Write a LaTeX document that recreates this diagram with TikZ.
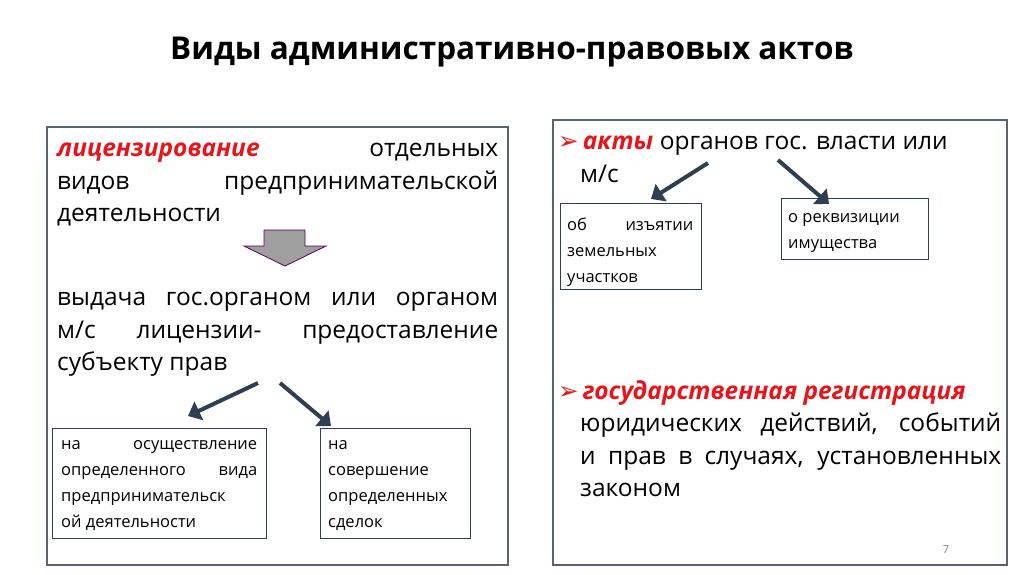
\documentclass[tikz,border=0pt]{standalone}
\usepackage{fontspec}
\setmainfont{Open Sans}
\newfontfamily\symfont{DejaVu Sans}
\usetikzlibrary{arrows.meta}
\definecolor{frame}{HTML}{5A6470}
\definecolor{arr}{HTML}{2F3E50}
\definecolor{hot}{HTML}{E8141B}
\tikzset{
  x=1pt,y=-1pt,
  frm/.style={draw=frame,line width=1.4pt},
  sbox/.style={draw=arr,line width=1.2pt,fill=white},
  big/.style={font=\fontsize{24.5}{32.5}\selectfont,inner sep=0pt,anchor=north west,align=justify},
  small/.style={font=\fontsize{16.5}{26}\selectfont,inner sep=0pt,anchor=north west,align=justify},
  thk/.style={draw=arr,line width=4pt,-{Triangle[length=12pt,width=20pt]}},
}
\newcommand{\red}[1]{\textcolor{hot}{\textbf{\textit{#1}}}}
\newcommand{\bul}{\textcolor{hot}{\symfont ➢}}
\begin{document}
\begin{tikzpicture}
\useasboundingbox (0,0) rectangle (1024,574);
\node[font=\bfseries\fontsize{31.5}{34}\selectfont] (title) at (512,52) {Виды административно-правовых актов};
\draw[frm] (47,127) rectangle (508,565);
\draw[frm] (553,120) rectangle (1007,565);
% left
\node[big,text width=441pt] (l1) at (57,143) {\red{лицензирование} отдельных\linebreak видов предпринимательской\linebreak деятельности};
\draw[draw=violet!70!black,fill=gray!75,line width=0.8pt] (264,230) -- (305,230) -- (305,246) -- (326,246) -- (285,266) -- (244,246) -- (264,246) -- cycle;
\node[big,text width=441pt] (l2) at (57,292) {выдача гос.органом или органом\linebreak м/с лицензии- предоставление\linebreak субъекту прав};
\node[sbox,minimum width=214pt,minimum height=110pt,anchor=north west] (b1) at (52,428) {};
\node[small,text width=196pt] (t1) at (61,440) {на осуществление\linebreak определенного вида\linebreak предпринимательск\linebreak ой деятельности};
\node[sbox,minimum width=150pt,minimum height=110pt,anchor=north west] (b2) at (320,428) {};
\node[small,text width=136pt] (t2) at (328,440) {на\\ совершение\\ определенных\\ сделок};
\coordinate (a1) at (258,383);
\coordinate (a2) at (280,383);
\draw[thk] (a1) -- (188,416);
\draw[thk] (a2) -- (331,426);
% right
\node[big,text width=442pt] (r1) at (558,136) {\bul\,\red{акты} органов гос. власти или\\\hspace*{22pt}м/с};
\node[sbox,minimum width=141pt,minimum height=86pt,anchor=north west] (b3) at (560,203) {};
\node[small,text width=126pt] (t3) at (567,218) {об изъятии\linebreak земельных\\ участков};
\node[sbox,minimum width=147pt,minimum height=61pt,anchor=north west] (b4) at (781,198) {};
\node[small,text width=134pt] (t4) at (788,213) {о реквизиции\\ имущества};
\coordinate (a3) at (708,163);
\coordinate (a4) at (778,160);
\draw[thk] (a3) -- (651,199);
\draw[thk] (a4) -- (829,204);
\node[big,text width=442pt] (r2) at (558,380) {\bul\,\red{государственная регистрация}};
\node[big,text width=421pt] (r3) at (580,413) {юридических действий, событий\linebreak и прав в случаях, установленных\linebreak законом};
\node[font=\fontsize{11}{13}\selectfont,text=gray] (pg) at (946,550) {7};
\end{tikzpicture}
\end{document}
